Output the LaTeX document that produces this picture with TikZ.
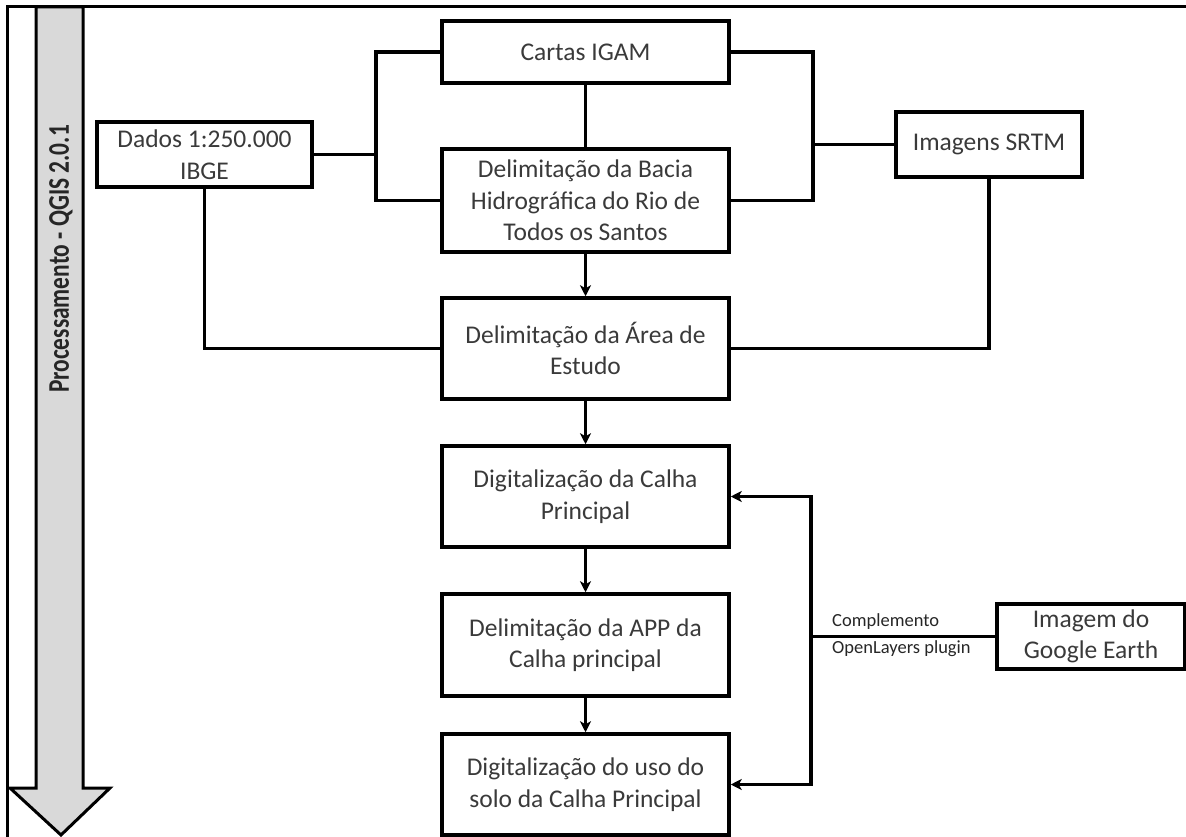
\documentclass[tikz,border=0pt]{standalone}
\usepackage{fontspec}
\setmainfont{Carlito}
\usetikzlibrary{arrows.meta}
\definecolor{txtgray}{HTML}{3A3A3A}
\definecolor{arrowgray}{HTML}{D9D9D9}
\tikzset{
  box/.style={draw=black, line width=3.5pt, align=center, text=txtgray, inner sep=0pt,
    font=\fontsize{25.5}{31.5}\selectfont},
  conn/.style={draw=black, line width=3.2pt},
  arr/.style={conn, -{Stealth[length=11pt,width=11pt,inset=3pt]}},
  small/.style={text=black!85, inner sep=0pt, font=\fontsize{18.5}{20}\selectfont}
}
\begin{document}
\begin{tikzpicture}[x=1pt,y=-1pt]
\useasboundingbox (0,0) rectangle (1186,837);
% frame
\draw[line width=3pt] (7,837) -- (7,7) -- (1186,7);
% process arrow
\draw[fill=arrowgray, line width=3pt, line join=miter]
  (36,7) -- (36,788) -- (10,788) -- (61,835) -- (110,788) -- (83,788) -- (83,7) -- cycle;
\node[rotate=90, text=black!85, inner sep=0pt] (proc) at (61,259)
  {\scalebox{0.78}[1]{\bfseries\fontsize{30}{32}\selectfont Processamento - QGIS 2.0.1}};
% boxes
\node[box, minimum width=287pt, minimum height=62pt] (cartas) at (585.5,52) {Cartas IGAM};
\node[box, minimum width=287pt, minimum height=103pt] (bacia) at (585.5,200.5) {Delimitação da Bacia\\Hidrográfica do Rio de\\Todos os Santos};
\node[box, minimum width=287pt, minimum height=101pt] (area) at (585.5,348.5) {Delimitação da Área de\\Estudo};
\node[box, minimum width=287pt, minimum height=101pt] (calha) at (585.5,496.5) {Digitalização da Calha\\Principal};
\node[box, minimum width=287pt, minimum height=102pt] (app) at (585.5,645) {Delimitação da APP da\\Calha principal};
\node[box, minimum width=287pt, minimum height=101pt] (uso) at (585.5,784.5) {Digitalização do uso do\\solo da Calha Principal};
\node[box, minimum width=215pt, minimum height=65pt] (dados) at (204.5,154.5) {Dados 1:250.000\\IBGE};
\node[box, minimum width=186pt, minimum height=65pt] (srtm) at (989,144.5) {Imagens SRTM};
\node[box, minimum width=188pt, minimum height=65pt] (google) at (1091,636.5) {Imagem do\\Google Earth};
% junctions
\coordinate (jl) at (376,154.5);
\coordinate (jr) at (813,144.5);
\coordinate (jg) at (811,636.5);
% connectors
\draw[conn] (cartas.west) -| (jl) |- (bacia.west);
\draw[conn] (dados.east) -- (jl);
\draw[conn] (cartas.east) -| (jr) |- (bacia.east);
\draw[conn] (srtm.west) -- (jr);
\draw[conn] (cartas.south) -- (bacia.north);
\draw[arr] (bacia.south) -- (area.north);
\draw[conn] (dados.south) |- (area.west);
\draw[conn] (srtm.south) |- (area.east);
\draw[arr] (area.south) -- (calha.north);
\draw[arr] (calha.south) -- (app.north);
\draw[arr] (app.south) -- (uso.north);
\draw[conn] (google.west) -- (jg);
\draw[arr] (jg) |- (calha.east);
\draw[arr] (jg) |- (uso.east);
\node[small, anchor=west] (lab1) at (832,622) {Complemento};
\node[small, anchor=west] (lab2) at (832,649) {OpenLayers plugin};
\end{tikzpicture}
\end{document}
